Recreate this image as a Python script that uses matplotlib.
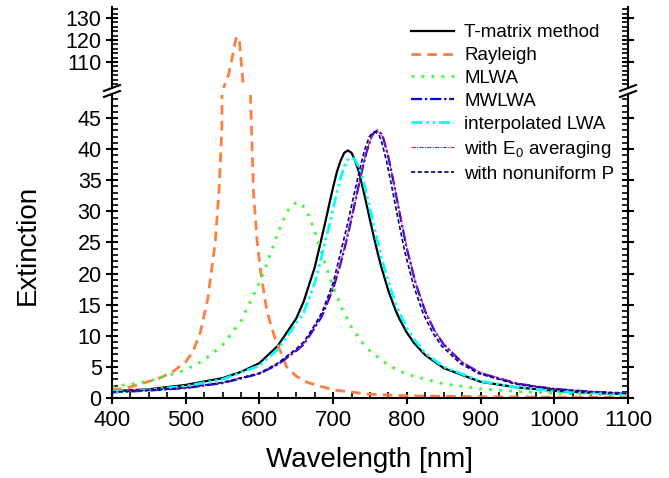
import numpy as np
import matplotlib
matplotlib.use("Agg")
import matplotlib.pyplot as plt
from matplotlib.lines import Line2D

plt.rcParams['font.family'] = ['Liberation Sans', 'DejaVu Sans']
plt.rcParams['mathtext.fontset'] = 'custom'
plt.rcParams['mathtext.rm'] = 'Liberation Sans'
plt.rcParams['mathtext.it'] = 'Liberation Sans'

# data
tm_wl = [400, 450, 500, 550, 575, 600, 625, 650, 660, 675, 680, 690, 695, 700, 705, 710, 715, 720, 725, 730, 735, 740, 745, 750, 755,
         760, 765, 775, 785, 790, 800, 810, 825, 850, 900, 950, 1000, 1050, 1100]
tm_ext = [1.1, 1.4, 2.1, 3.2, 4.2, 5.6, 8.4, 12.8, 15.5, 21.0, 23.5, 28.6, 31.3, 33.9, 36.3, 38.1, 39.4, 39.8, 39.4, 38.1, 36.3, 33.9, 31.3,
          28.6, 26.0, 23.5, 21.2, 17.2, 14.0, 12.7, 10.5, 8.8, 6.9, 4.8, 2.6, 1.7, 1.15, 0.82, 0.62]

ray_wl = [400, 420, 440, 460, 480, 500, 510, 520, 530, 540, 545, 549, 552, 558, 563, 566, 569, 571, 573, 578, 588, 592, 597, 602, 610,
          620, 637, 650, 665, 700, 750, 800, 900, 1000, 1100]
ray_ext = [1.3, 1.6, 2.3, 3.0, 4.0, 5.8, 7.5, 10.6, 16.0, 25.0, 33.0, 43.0, 99.0, 104.0, 112.0, 117.5, 121.5, 121.0, 119.0, 99.5, 48.0, 33.0,
           25.0, 20.0, 14.0, 10.0, 5.0, 3.5, 2.5, 1.3, 0.6, 0.35, 0.2, 0.12, 0.08]

mlwa_wl = [400, 450, 500, 525, 550, 575, 600, 612, 625, 632, 640, 645, 652, 658, 665, 672, 680, 690, 700, 712, 725, 738, 750, 775,
           800, 850, 900, 950, 1000, 1050, 1100]
mlwa_ext = [1.8, 2.7, 4.5, 6.1, 8.5, 12.4, 18.5, 22.2, 26.5, 28.5, 30.4, 31.1, 31.5, 31.1, 29.8, 27.8, 25.0, 21.3, 17.9, 14.4, 11.4, 9.1,
            7.55, 5.25, 3.8, 2.26, 1.48, 1.04, 0.77, 0.59, 0.47]

mw_wl = [400, 450, 500, 550, 600, 625, 650, 660, 675, 685, 700, 708, 715, 722, 730, 738, 745, 752, 755, 760, 765, 768, 775, 782, 790,
         800, 812, 825, 838, 850, 875, 900, 950, 1000, 1050, 1100]
mw_ext = [0.9, 1.2, 1.6, 2.4, 3.9, 5.4, 7.6, 8.6, 11.3, 13.2, 17.6, 20.7, 23.8, 27.3, 31.6, 36.0, 39.4, 42.0, 42.6, 43.0, 42.5, 41.8, 38.7,
          34.7, 29.8, 24.0, 18.4, 13.9, 10.7, 8.6, 5.7, 4.0, 2.3, 1.46, 1.01, 0.74]

ilwa_wl = [400, 450, 500, 550, 600, 625, 650, 660, 675, 680, 690, 695, 700, 705, 710, 715, 720, 725, 730, 735, 740, 745, 750, 755, 760,
           765, 775, 785, 790, 800, 810, 825, 850, 900, 950, 1000, 1050, 1100]
ilwa_ext = [1.0, 1.3, 1.9, 3.0, 5.2, 7.8, 12.0, 13.7, 18.5, 20.6, 25.5, 27.8, 30.4, 33.0, 35.3, 37.1, 38.3, 38.7, 38.3, 37.1, 35.3, 33.0,
            30.4, 27.8, 25.3, 22.8, 18.6, 15.1, 13.7, 11.2, 9.4, 7.2, 5.0, 2.7, 1.7, 1.15, 0.85, 0.65]

e0_wl = mw_wl
e0_ext = [0.95, 1.25, 1.65, 2.45, 3.95, 5.5, 7.7, 8.7, 11.5, 13.4, 17.8, 20.9, 24.0, 27.5, 31.8, 36.1, 39.5, 42.0, 42.5, 42.9, 42.4, 41.8,
          38.8, 34.8, 30.0, 24.2, 18.5, 14.0, 10.8, 8.7, 5.8, 4.1, 2.35, 1.5, 1.05, 0.78]

np_wl = [400, 450, 500, 550, 600, 625, 650, 660, 675, 685, 700, 705, 712, 719, 727, 735, 742, 749, 752, 757, 762, 765, 772, 779, 787,
         797, 809, 822, 835, 847, 872, 897, 947, 997, 1047, 1100]
np_ext = [0.95, 1.25, 1.65, 2.5, 4.0, 5.6, 7.9, 9.0, 11.7, 13.8, 18.5, 20.9, 24.3, 27.7, 32.0, 36.2, 39.6, 42.0, 42.4, 42.8, 42.3, 41.5,
          38.3, 34.3, 29.4, 23.6, 18.1, 13.6, 10.5, 8.4, 5.6, 3.95, 2.25, 1.43, 1.0, 0.72]

series = [
    (tm_wl, tm_ext, "T-matrix method", dict(color='black', lw=1.6, ls='-')),
    (ray_wl, ray_ext, "Rayleigh", dict(color='#FF7F40', lw=2.0, dashes=(3.5, 2.2))),
    (mlwa_wl, mlwa_ext, "MLWA", dict(color='#33FF33', lw=2.0, dashes=(1, 2.6))),
    (mw_wl, mw_ext, "MWLWA", dict(color='#0000FF', lw=1.6, dashes=(5, 1.3, 1, 1.3))),
    (ilwa_wl, ilwa_ext, "interpolated LWA", dict(color='#00FFFF', lw=2.0, dashes=(4, 1.3, 1, 1.3, 1, 1.3))),
    (e0_wl, e0_ext, "with E$_0$ averaging", dict(color='#E0107F', lw=0.8, dashes=(4, 1, 1, 1))),
    (np_wl, np_ext, "with nonuniform P", dict(color='#000080', lw=1.2, dashes=(2.5, 1.5))),
]

fig = plt.figure(figsize=(6.69, 4.78), dpi=100)
W, H = 669, 478
left, right = 112, 628
ax = fig.add_axes([left / W, (H - 398) / H, (right - left) / W, (398 - 95) / H])
axt = fig.add_axes([left / W, (H - 88) / H, (right - left) / W, (88 - 7) / H])

handles = []
for wl, ext, lab, st in series:
    for a in (ax, axt):
        a.plot(wl, ext, **st)
    handles.append(Line2D([], [], **st))

ax.set_xlim(400, 1100)
axt.set_xlim(400, 1100)
ax.set_ylim(0, 48.7)
axt.set_ylim(98.2, 135)

ax.set_xticks(np.arange(400, 1101, 100))
ax.set_xticks(np.arange(400, 1101, 25), minor=True)
ax.set_yticks(np.arange(0, 46, 5))
ax.set_yticks(np.arange(0, 49, 1), minor=True)
axt.set_yticks([110, 120, 130])
axt.set_yticks(np.arange(100, 135, 2), minor=True)

ax.spines['top'].set_visible(False)
axt.spines['bottom'].set_visible(False)
axt.spines['top'].set_visible(False)
axt.set_xticks([])
for a in (ax, axt):
    for s in a.spines.values():
        s.set_linewidth(1.5)
    a.tick_params(which='major', direction='inout', length=8, width=1.5, labelsize=15.5,
                  left=True, right=True, top=False)
    a.tick_params(which='minor', direction='in', length=4, width=1.2,
                  left=True, right=True, top=False)
ax.tick_params(axis='x', which='major', direction='inout', length=8, pad=5, labelsize=16)
ax.tick_params(axis='x', which='minor', direction='in', length=4)
ax.tick_params(axis='y', labelright=False)
axt.tick_params(axis='y', labelright=False)

ax.set_xlabel("Wavelength [nm]", fontsize=20, labelpad=11)
fig.text(28 / W, 1 - 245 / H, "Extinction", rotation=90, fontsize=20, va='center', ha='center')

# break marks on both spines
for xs in (left, right):
    for yc in (88, 94):
        fig.add_artist(Line2D([(xs - 8) / W, (xs + 8) / W], [1 - (yc + 3) / H, 1 - (yc - 3) / H],
                              color='black', lw=1.5, transform=fig.transFigure))

fig.legend(handles, [s[2] for s in series], loc='upper left', bbox_to_anchor=(411 / W, 1 - 24 / H),
           frameon=False, fontsize=13.5, handlelength=2.3, handletextpad=0.55, labelspacing=0.31,
           borderpad=0, borderaxespad=0)

fig.savefig("out.png", dpi=100)
